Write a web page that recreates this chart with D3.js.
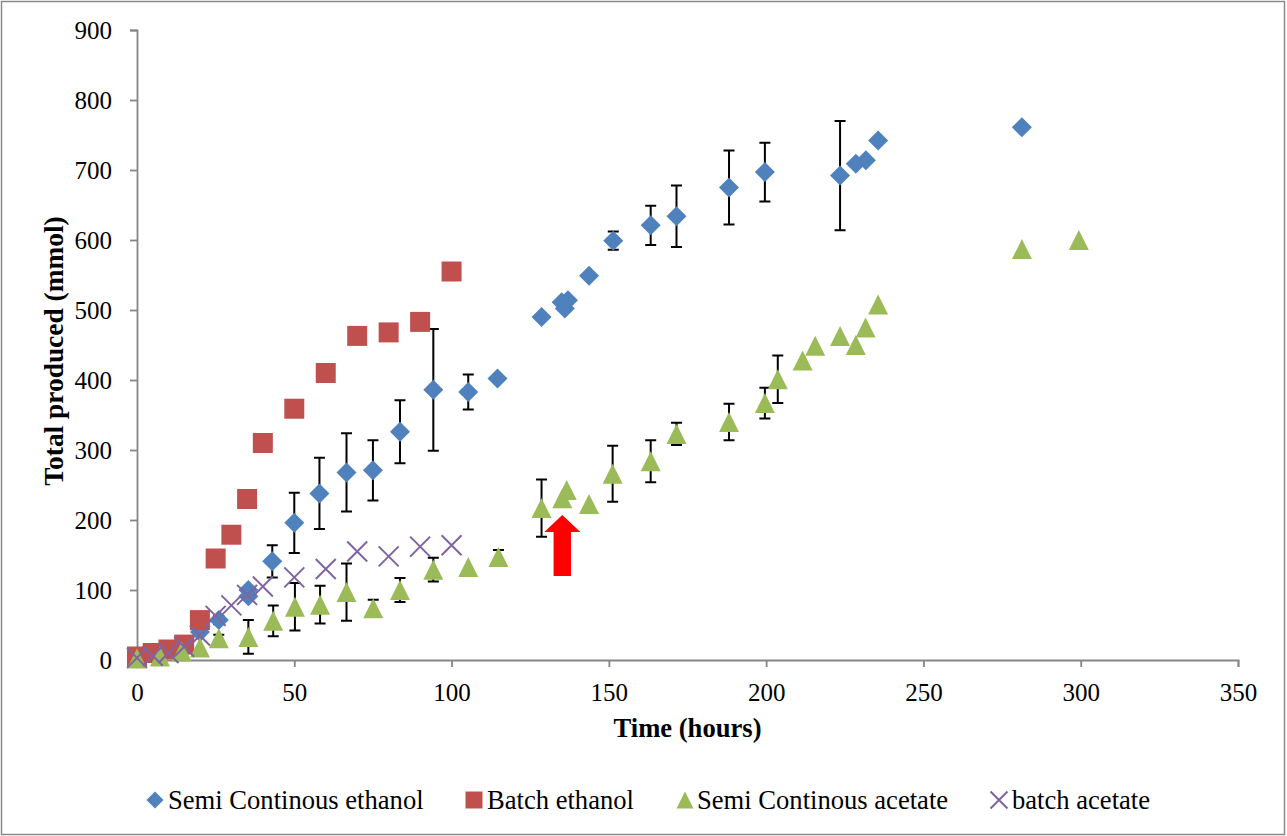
<!DOCTYPE html>
<html>
<head>
<meta charset="utf-8">
<script src="https://cdn.jsdelivr.net/npm/d3@7"></script>
<style>
  html, body { margin: 0; padding: 0; background: #fff; }
  svg { display: block; }
  text { font-family: "Liberation Serif", "Times New Roman", serif; fill: #000; }
</style>
</head>
<body>
<svg id="chart" width="1287" height="836"></svg>
<script>
// Semi-continuous ethanol: time (h), total (mmol), error (+/-)
const semiEthanolTime  = [0, 7, 14, 20, 26, 35.4, 35.4, 43, 50, 58, 66.6, 75, 83.6, 94.2, 105.3, 114.6, 128.6, 135, 136, 137, 143.7, 151.4, 163.3, 171.5, 188.2, 199.6, 223.5, 228.5, 231.7, 235.6, 281.3];
const semiEthanolValue = [2, 6, 18, 40, 57, 100, 91, 141, 196, 238, 268, 271, 326, 386, 383, 402, 490, 511, 502, 514, 549, 599, 621, 634, 675, 697, 692, 709, 714, 742, 761];
const semiEthanolError = [0, 0, 0, 5, 6, 0, 0, 23, 43, 51, 56, 43, 45, 87, 25, 3, 0, 0, 0, 0, 0, 13, 28, 44, 53, 42, 78, 0, 0, 0, 0];

// Batch ethanol
const batchEthanolTime  = [0, 5, 10, 15, 20, 25, 30, 35, 40, 50, 60, 70, 80, 90, 100];
const batchEthanolValue = [5, 10, 15, 22, 57, 145, 179, 230, 310, 359, 410, 463, 468, 483, 555];

// Semi-continuous acetate
const semiAcetateTime  = [0, 7.3, 14.2, 20, 26, 35.4, 43.3, 50.2, 58.2, 66.6, 75.1, 83.6, 94.2, 105.3, 114.9, 128.6, 135.2, 136.6, 143.7, 151.2, 163.3, 171.5, 188.2, 199.6, 203.7, 211.6, 215.6, 223.5, 228.5, 231.6, 235.6, 281.3, 299.4];
const semiAcetateValue = [2, 5, 12, 18, 31, 33, 56, 76, 79, 97, 74, 100, 129, 133, 147, 217, 231, 243, 223, 266, 284, 323, 340, 367, 401, 428, 449, 463, 450, 475, 508, 587, 600];
const semiAcetateError = [0, 0, 0, 0, 5, 24, 22, 34, 27, 41, 12, 17, 17, 0, 10, 41, 0, 0, 0, 40, 30, 16, 26, 22, 34, 0, 0, 0, 0, 0, 0, 0, 0];

// Batch acetate
const batchAcetateTime  = [0, 5, 10, 15, 20, 25, 30, 35, 40, 50, 60, 70, 80, 90, 100];
const batchAcetateValue = [3, 6, 10, 19, 35, 63, 78, 93, 105, 118, 130, 155, 148, 162, 164];

// Arrow marking the change point (time, from value, head base value, tip value)
const arrowTime = 135.2;
const arrowFrom = 120, arrowHeadBase = 183, arrowTip = 207;

const xTicks = [0, 50, 100, 150, 200, 250, 300, 350];
const yTicks = [0, 100, 200, 300, 400, 500, 600, 700, 800, 900];

const seriesNames = ["Semi Continous ethanol", "Batch ethanol", "Semi Continous acetate", "batch acetate"];
const colors = { blue: "#4F81BD", red: "#C0504D", green: "#9BBB59", purple: "#8064A2" };

const svg = d3.select("#chart");

// outer frame
svg.append("rect")
  .attr("x", 1.5).attr("y", 1.5).attr("width", 1283).attr("height", 833)
  .attr("fill", "#fff").attr("stroke", "#8a8a8a").attr("stroke-width", 1.5);

const x = d3.scaleLinear().domain([0, 350]).range([137, 1238]);
const y = d3.scaleLinear().domain([0, 900]).range([660, 30]);

// axes
const axisColor = "#868686";
const gy = svg.append("g").attr("transform", `translate(${x(0)},0)`)
  .call(d3.axisLeft(y).tickValues(yTicks).tickSize(7).tickPadding(18).tickFormat(d3.format("d")));
const gx = svg.append("g").attr("transform", `translate(0,${y(0)})`)
  .call(d3.axisBottom(x).tickValues(xTicks).tickSize(7).tickPadding(16).tickFormat(d3.format("d")));
[gx, gy].forEach(g => {
  g.select(".domain").attr("stroke", axisColor).attr("stroke-width", 1.8);
  g.selectAll(".tick line").attr("stroke", axisColor).attr("stroke-width", 1.8);
  g.selectAll(".tick text").attr("font-size", 25).attr("font-family", "Liberation Serif").attr("fill", "#000");
});

// axis titles
svg.append("text")
  .attr("x", (x(0) + x(350)) / 2).attr("y", 737)
  .attr("text-anchor", "middle").attr("font-size", 26.6).attr("font-weight", "bold")
  .text("Time (hours)");
svg.append("text")
  .attr("transform", `translate(63,351) rotate(-90)`)
  .attr("text-anchor", "middle").attr("font-size", 27.4).attr("font-weight", "bold")
  .text("Total produced (mmol)");

// marker shapes
const S = 20;
function diamondPath(s) { const h = s / 2; return `M0,${-h}L${h},0L0,${h}L${-h},0Z`; }
function squarePath(s) { const h = s / 2; return `M${-h},${-h}H${h}V${h}H${-h}Z`; }
function trianglePath(s) { const h = s / 2; return `M0,${-h}L${h},${h}L${-h},${h}Z`; }
function crossPath(s) { const h = s / 2; return `M${-h},${-h}L${h},${h}M${-h},${h}L${h},${-h}`; }

function zip(ts, vs, es) { return ts.map((t, i) => ({ t, v: vs[i], e: es ? es[i] : 0 })); }

function drawErrors(data) {
  const g = svg.append("g").attr("stroke", "#000").attr("stroke-width", 2).attr("fill", "none");
  const cap = 5.5;
  data.filter(d => d.e > 0).forEach(d => {
    const cx = x(d.t), y1 = y(d.v + d.e), y2 = y(d.v - d.e);
    g.append("path").attr("d", `M${cx},${y1}V${y2}M${cx - cap},${y1}H${cx + cap}M${cx - cap},${y2}H${cx + cap}`);
  });
}

function drawMarkers(data, pathFn, color, stroked) {
  svg.append("g").selectAll("path").data(data).join("path")
    .attr("transform", d => `translate(${x(d.t)},${y(d.v)})`)
    .attr("d", pathFn(S))
    .attr("fill", stroked ? "none" : color)
    .attr("stroke", stroked ? color : "none")
    .attr("stroke-width", stroked ? 2 : 0);
}

const semiEthanol = zip(semiEthanolTime, semiEthanolValue, semiEthanolError);
const batchEthanol = zip(batchEthanolTime, batchEthanolValue);
const semiAcetate = zip(semiAcetateTime, semiAcetateValue, semiAcetateError);
const batchAcetate = zip(batchAcetateTime, batchAcetateValue);

drawErrors(semiEthanol);
drawMarkers(semiEthanol, diamondPath, colors.blue, false);
drawMarkers(batchEthanol, squarePath, colors.red, false);
drawErrors(semiAcetate);
drawMarkers(semiAcetate, trianglePath, colors.green, false);
drawMarkers(batchAcetate, crossPath, colors.purple, true);

// red arrow
{
  const cx = x(arrowTime), yb = y(arrowFrom), yh = y(arrowHeadBase), yt = y(arrowTip);
  const sw = 8.7, hw = 18;
  svg.append("path")
    .attr("d", `M${cx - sw},${yb}V${yh}H${cx - hw}L${cx},${yt}L${cx + hw},${yh}H${cx + sw}V${yb}Z`)
    .attr("fill", "#FF0000");
}

// legend
const legendY = 800;
const legendItems = [
  { name: seriesNames[0], mx: 155, tx: 168, path: diamondPath, color: colors.blue, stroked: false },
  { name: seriesNames[1], mx: 474, tx: 487, path: squarePath, color: colors.red, stroked: false },
  { name: seriesNames[2], mx: 685, tx: 697, path: trianglePath, color: colors.green, stroked: false },
  { name: seriesNames[3], mx: 999, tx: 1012, path: crossPath, color: colors.purple, stroked: true }
];
const lg = svg.append("g");
legendItems.forEach(it => {
  lg.append("path")
    .attr("transform", `translate(${it.mx},${legendY})`)
    .attr("d", it.path(17))
    .attr("fill", it.stroked ? "none" : it.color)
    .attr("stroke", it.stroked ? it.color : "none")
    .attr("stroke-width", it.stroked ? 2 : 0);
  lg.append("text").attr("x", it.tx).attr("y", 809).attr("font-size", 26.6).text(it.name);
});
</script>
</body>
</html>
